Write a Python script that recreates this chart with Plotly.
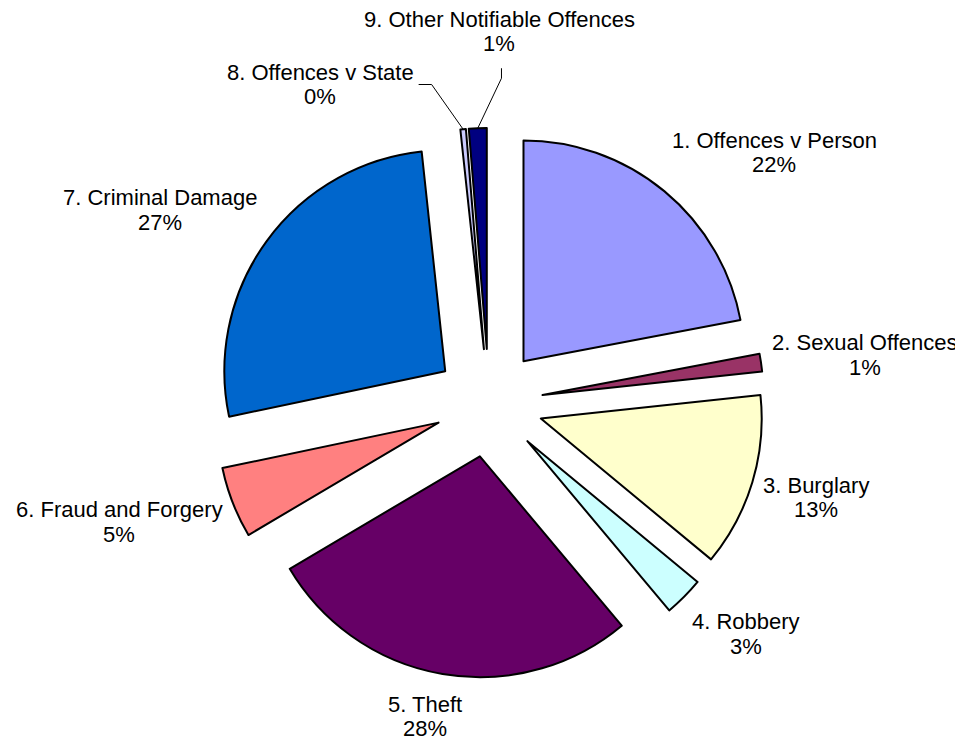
import math
import plotly.graph_objects as go

categories = ["1. Offences v Person", "2. Sexual Offences", "3. Burglary", "4. Robbery",
              "5. Theft", "6. Fraud and Forgery", "7. Criminal Damage",
              "8. Offences v State", "9. Other Notifiable Offences"]
values = [22.0, 1.3, 12.7, 2.9, 27.6, 5.2, 26.6, 0.4, 1.3]
colors = ["#9999FF", "#993366", "#FFFFCC", "#CCFFFF", "#660066", "#FF8080",
          "#0066CC", "#CCCCFF", "#000080"]

# ---- layout / style ----
W, H = 963, 743
ML, MR, MT, MB = 92, 93, 120, 73
PULL = 0.245
FONT = 22
LINE_PITCH = 24.8
LABEL_DX, LABEL_DY = 286, 293
# extra shifts (px) for crowded small-slice labels, and their leader style
label_shift = {7: (-120, -2), 8: (36, -54)}
leader = {7: "h", 8: "v"}

pw, ph = W - ML - MR, H - MT - MB
cx, cy = ML + pw / 2, MT + ph / 2
r = min(pw, ph) / (2 * (1 + PULL))
R_out = r * (1 + PULL)

# approx Arial/Liberation Sans advance widths (per 1000 em)
AW = {" ": 278, ".": 278, "%": 889, "B": 667, "C": 722, "D": 722, "F": 611, "N": 722,
      "O": 778, "P": 667, "R": 722, "S": 667, "T": 611, "a": 556, "b": 556, "c": 500,
      "d": 556, "e": 556, "f": 278, "g": 556, "h": 556, "i": 222, "l": 222, "m": 833,
      "n": 556, "o": 556, "r": 333, "s": 500, "t": 278, "u": 556, "v": 500, "x": 500, "y": 500}


def text_w(s):
    return sum(AW.get(ch, 556) for ch in s) * FONT / 1000


def px2paper(x, y):
    return (x - ML) / pw, 1 - (y - MT) / ph


def clip(t, k):
    return max(-1.0, min(1.0, t / k))


fig = go.Figure(go.Pie(
    labels=categories, values=values, sort=False, direction="clockwise", rotation=0,
    marker=dict(colors=colors, line=dict(color="black", width=2)),
    pull=[PULL] * len(values), textinfo="none", hoverinfo="label+percent",
    showlegend=False,
))

total = sum(values)
cum = 0.0
annotations, shapes = [], []
for i, (lab, v) in enumerate(zip(categories, values)):
    mid = (cum + v / 2) / total * 2 * math.pi
    cum += v
    s, c = math.sin(mid), -math.cos(mid)
    pct = f"{round(v / total * 100)}%"
    w = max(text_w(lab), text_w(pct))
    hbox = 2 * LINE_PITCH
    px, py = cx + LABEL_DX * s, cy + LABEL_DY * c
    lx = px + clip(s, 0.4) * w / 2
    ly = py + clip(c, 0.7) * hbox / 2
    dx, dy = label_shift.get(i, (0, 0))
    lx, ly = lx + dx, ly + dy
    for j, t in enumerate([lab, pct]):
        ax, ay = px2paper(lx, ly + (j - 0.5) * LINE_PITCH)
        annotations.append(dict(x=ax, y=ay, xref="paper", yref="paper", text=t,
                                showarrow=False, xanchor="center", yanchor="middle",
                                font=dict(size=FONT, color="black")))
    if i in leader:
        tipx, tipy = cx + R_out * s, cy + R_out * c
        if leader[i] == "h":
            p0 = (lx + w / 2 + 5, ly)
            p1 = (p0[0] + 13, ly)
        else:
            p0 = (lx + 2, ly + hbox / 2 + 12)
            p1 = (p0[0], p0[1] + 10)
        pts = [px2paper(*p) for p in (p0, p1, (tipx, tipy))]
        path = "M {} {} L {} {} L {} {}".format(*[f"{q:.5f}" for p in pts for q in p])
        shapes.append(dict(type="path", xref="paper", yref="paper", path=path,
                           line=dict(color="black", width=1)))

fig.update_layout(
    width=W, height=H, paper_bgcolor="white", plot_bgcolor="white",
    margin=dict(l=ML, r=MR, t=MT, b=MB),
    font=dict(family="Liberation Sans, Arial, sans-serif", size=FONT, color="black"),
    annotations=annotations, shapes=shapes,
)
fig.write_html("out.html")
